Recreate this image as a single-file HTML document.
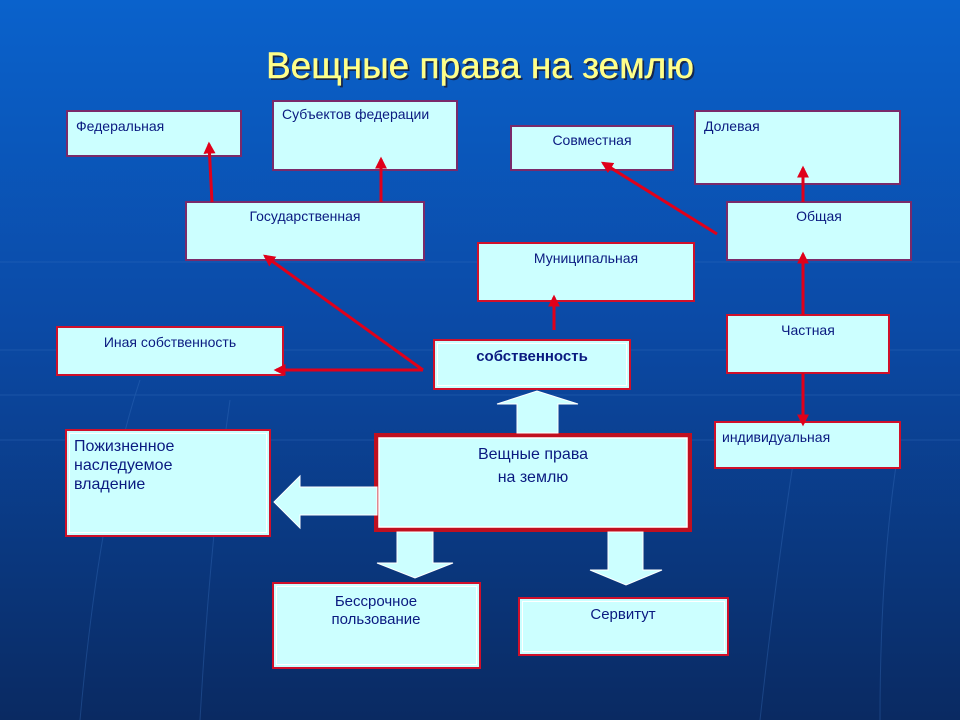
<!DOCTYPE html>
<html><head><meta charset="utf-8"><style>
html,body{margin:0;padding:0;width:960px;height:720px;overflow:hidden}
svg{display:block}
text{font-family:"Liberation Sans","DejaVu Sans",sans-serif;fill:#0a1a80}
</style></head><body>
<svg width="960" height="720" viewBox="0 0 960 720" xmlns="http://www.w3.org/2000/svg">
<defs>
<linearGradient id="bg" x1="0" y1="0" x2="0" y2="1">
<stop offset="0" stop-color="#0a62cc"/>
<stop offset="0.45" stop-color="#0b4aa6"/>
<stop offset="1" stop-color="#0a2a62"/>
</linearGradient>
<marker id="ah" viewBox="0 0 10 10" refX="8" refY="5" markerWidth="4" markerHeight="4" orient="auto">
<path d="M0,0 L10,5 L0,10 z" fill="#e0001a"/>
</marker>
</defs>
<rect width="960" height="720" fill="url(#bg)"/>
<g stroke="#3a72c0" stroke-width="1" opacity="0.35" fill="none">
<line x1="0" y1="350" x2="960" y2="350"/><line x1="0" y1="395" x2="960" y2="395"/><line x1="0" y1="440" x2="960" y2="440"/><line x1="0" y1="262" x2="960" y2="262"/>
<path d="M80,720 Q100,500 140,380"/><path d="M200,720 Q210,540 230,400"/><path d="M760,720 Q780,540 800,420"/><path d="M880,720 Q880,560 900,440"/>
</g>
<text x="482" y="80" text-anchor="middle" font-size="37" style="fill:#1a1a30" opacity="0.8">Вещные права на землю</text>
<text x="480" y="78" text-anchor="middle" font-size="37" style="fill:#ffff8a" stroke="#ffff8a" stroke-width="0.4">Вещные права на землю</text>

<g fill="#ccffff" stroke="#7a2a6a" stroke-width="2">
<rect x="67" y="111" width="174" height="45"/>
<rect x="273" y="101" width="184" height="69"/>
<rect x="511" y="126" width="162" height="44"/>
<rect x="695" y="111" width="205" height="73"/>
<rect x="186" y="202" width="238" height="58"/>
<rect x="727" y="202" width="184" height="58"/>
</g>
<g fill="#ccffff" stroke="#d0102a" stroke-width="2">
<rect x="478" y="243" width="216" height="58"/>
<rect x="57" y="327" width="226" height="48"/>
<rect x="434" y="340" width="196" height="49"/>
<rect x="727" y="315" width="162" height="58"/>
<rect x="715" y="422" width="185" height="46"/>
<rect x="66" y="430" width="204" height="106"/>
<rect x="273" y="583" width="207" height="85"/>
<rect x="519" y="598" width="209" height="57"/>
</g>
<g fill="none" stroke="#ffffff" stroke-width="1">
<rect x="69.5" y="433.5" width="197" height="99"/>
<rect x="276.5" y="586.5" width="200" height="78"/>
<rect x="437.5" y="343.5" width="189" height="42"/>
<rect x="522.5" y="601.5" width="202" height="50"/>
</g>
<rect x="374" y="433" width="318" height="99" fill="#c01020"/>
<rect x="379" y="438" width="308" height="89" fill="#ccffff" stroke="#ffffff" stroke-width="1.5"/>

<g fill="#ccffff" stroke="#ffffff" stroke-width="1">
<path d="M517,433 L517,404 L497,404 L537,391 L578,404 L558,404 L558,433 z"/>
<path d="M377,487 L300,487 L300,476 L274,502 L300,528 L300,515 L377,515 z"/>
<path d="M397,532 L433,532 L433,563 L453,563 L415,578 L377,563 L397,563 z"/>
<path d="M608,532 L643,532 L643,570 L662,570 L626,585 L590,570 L608,570 z"/>
</g>

<g stroke="#e0001a" stroke-width="3" fill="none" marker-end="url(#ah)">
<line x1="212" y1="202" x2="209" y2="144"/>
<line x1="381" y1="202" x2="381" y2="159"/>
<line x1="423" y1="370" x2="265" y2="256"/>
<line x1="423" y1="370" x2="276" y2="370"/>
<line x1="554" y1="330" x2="554" y2="297"/>
<line x1="717" y1="234" x2="603" y2="163"/>
<line x1="803" y1="202" x2="803" y2="168"/>
<line x1="803" y1="315" x2="803" y2="254"/>
<line x1="803" y1="373" x2="803" y2="424"/>
</g>

<g font-size="14">
<text x="76" y="131">Федеральная</text>
<text x="282" y="119">Субъектов федерации</text>
<text x="592" y="145" text-anchor="middle">Совместная</text>
<text x="704" y="131">Долевая</text>
<text x="305" y="221" text-anchor="middle">Государственная</text>
<text x="819" y="221" text-anchor="middle">Общая</text>
<text x="586" y="263" text-anchor="middle">Муниципальная</text>
<text x="170" y="347" text-anchor="middle">Иная собственность</text>
<text x="808" y="335" text-anchor="middle">Частная</text>
<text x="722" y="442">индивидуальная</text>
</g>
<text x="532" y="361" text-anchor="middle" font-size="15" font-weight="bold">собственность</text>
<g font-size="16">
<text x="533" y="459" text-anchor="middle">Вещные права</text>
<text x="533" y="482" text-anchor="middle">на землю</text>
<text x="74" y="451">Пожизненное</text>
<text x="74" y="470">наследуемое</text>
<text x="74" y="489">владение</text>
<text x="376" y="606" text-anchor="middle" font-size="15">Бессрочное</text>
<text x="376" y="624" text-anchor="middle" font-size="15">пользование</text>
<text x="623" y="619" text-anchor="middle" font-size="15">Сервитут</text>
</g>
</svg>
</body></html>
